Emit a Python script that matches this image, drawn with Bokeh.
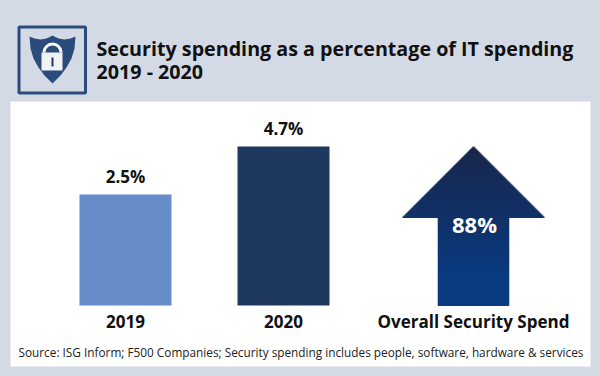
from bokeh.plotting import figure
from bokeh.models import Range1d
from bokeh.core.properties import value
from bokeh.embed import file_html
from bokeh.resources import INLINE
import numpy as np

# ---- chart content
title_lines = ["Security spending as a percentage of IT spending", "2019 - 2020"]
categories = ["2019", "2020", "Overall Security Spend"]
bar_values = [2.5, 4.7]
bar_labels = ["2.5%", "4.7%"]
arrow_label = "88%"
source = "Source: ISG Inform; F500 Companies; Security spending includes people, software, hardware & services"

# ---- style
BAND = "#d3dae6"
BAR_COLORS = ["#668cc9", "#1f3860"]
ICON = "#2b4b7c"
FONT = "Open Sans"
INK = "#111111"

# The plot area spans the window's pixels, so layout positions read directly.
p = figure(width=600, height=376, x_range=Range1d(0, 600), y_range=Range1d(376, 0),
           output_backend="svg", toolbar_location=None, min_border=0,
           background_fill_color=BAND, border_fill_color=BAND, outline_line_color=None)
p.axis.visible = False
p.grid.visible = False

# Value scale for the bars: an infographic baseline below zero.
BASE_PX, TOP_PX = 305.0, 146.0
baseline = -2.6
top_val = max(bar_values)
per_px = (top_val - baseline) / (BASE_PX - TOP_PX)
p.extra_y_ranges = {"pct": Range1d(baseline + (BASE_PX - 376) * per_px,
                                   baseline + (BASE_PX - 0) * per_px)}

# White panel
p.quad(left=10, right=590, top=101, bottom=366, fill_color="white", line_color=None)

# Bars
bar_x = [125, 283]
p.vbar(x=bar_x, width=92, bottom=baseline, top=bar_values, fill_color=BAR_COLORS,
       line_color=None, y_range_name="pct")
p.text(x=bar_x, y=[v + 0.29 for v in bar_values], text=bar_labels, y_range_name="pct",
       text_font=value(FONT), text_font_style="bold", text_font_size="17px",
       text_align="center", text_baseline="bottom", text_color=INK)

# Arrow, drawn as fine horizontal strips to carry its vertical gradient
ax = 473.0
tip, head_base, tail = 146, 217, 305
head_half, shaft_half = 71.0, 35.7
c_top = np.array([0x1a, 0x27, 0x4c])
c_bot = np.array([0x0a, 0x3a, 0x80])
ys = np.arange(tip, tail)
half = np.where(ys < head_base, (ys + 1 - tip) / (head_base - tip) * head_half, shaft_half)
ts = np.minimum((ys - tip) / (tail - tip) * 1.25, 1.0)
cols = ["#%02x%02x%02x" % tuple(int(v) for v in c_top + (c_bot - c_top) * t) for t in ts]
p.quad(left=ax - half, right=ax + half, top=ys, bottom=ys + 1.6, fill_color=cols, line_color=None)
p.text(x=[474], y=[223.5], text=[arrow_label], text_font=value(FONT), text_font_style="bold",
       text_font_size="22px", text_align="center", text_baseline="middle", text_color="white")

# Category labels
p.text(x=[125, 283, 473], y=[321, 321, 321], text=categories, text_font=value(FONT),
       text_font_style="bold", text_font_size="17px", text_align="center",
       text_baseline="middle", text_color=INK)

# Source
p.text(x=[18], y=[351], text=[source], text_font=value(FONT), text_font_size="11.8px",
       text_align="left", text_baseline="middle", text_color="#222222")

# Title
p.text(x=[96, 96], y=[47.5, 70.5], text=title_lines, text_font=value(FONT), text_font_style="bold",
       text_font_size="19.7px", text_align="left", text_baseline="middle", text_color=INK)

# Icon: frame, shield, padlock
p.quad(left=18.5, right=85, top=26.5, bottom=92.5, fill_color=None, line_color=ICON, line_width=3)
p.patch(x=[29, 34, 40, 46, 52, 58, 64, 70, 75, 74, 71, 66, 60, 52, 44, 38, 33, 30],
        y=[36, 38, 39, 38, 35, 38, 39, 38, 36, 48, 58, 67, 75, 83, 75, 67, 58, 48],
        fill_color=ICON, line_color=None)
p.arc(x=[52], y=[52], radius=8.5, start_angle=0, end_angle=np.pi, direction="anticlock",
      line_color="white", line_width=3)
p.quad(left=41, right=62, top=52, bottom=70, fill_color="#f0f2f6", line_color=None)
p.quad(left=51, right=53, top=57, bottom=66, fill_color="#1f3860", line_color=None)

template = """{% block preamble %}<style>html,body{background:#d3dae6;margin:0}</style>{% endblock %}"""
open("out.html", "w").write(file_html(p, INLINE, template=template))
